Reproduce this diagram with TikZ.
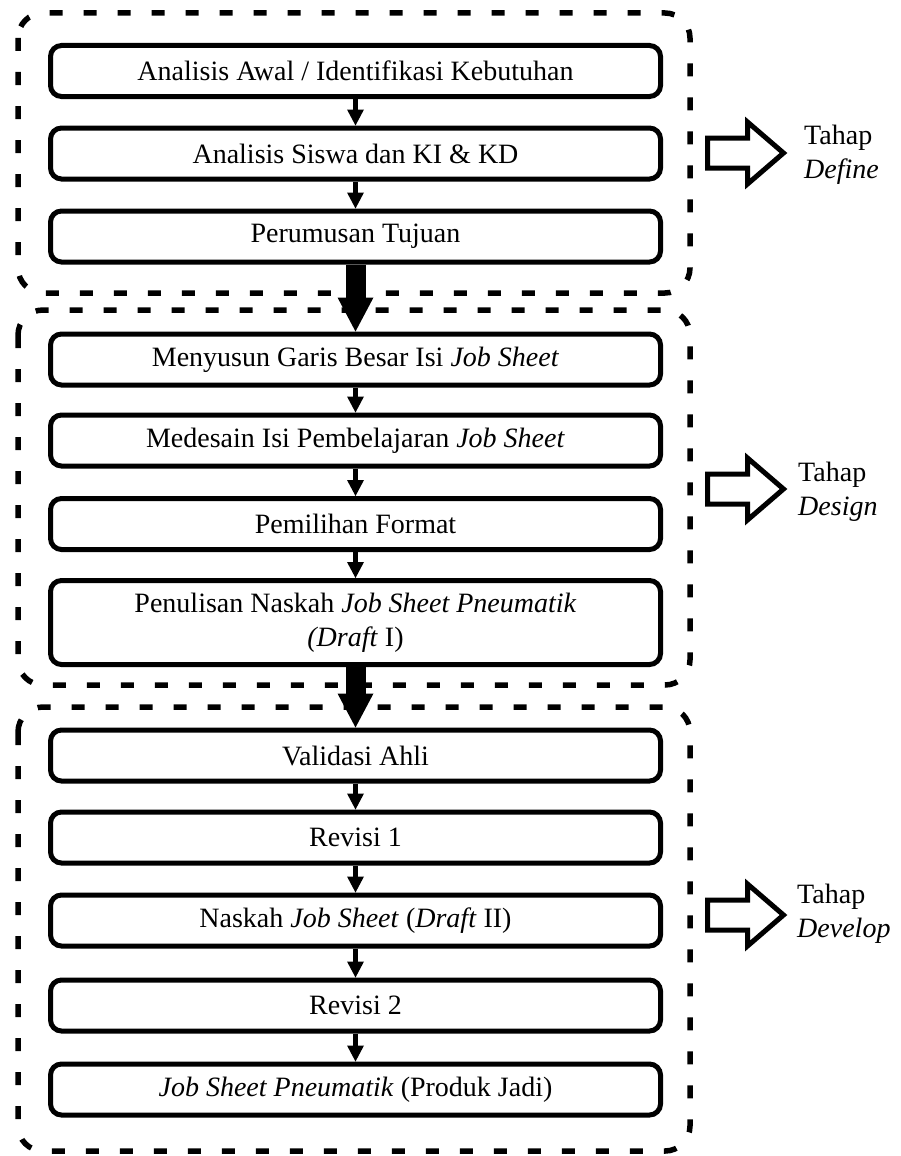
\documentclass[tikz,border=0pt]{standalone}
\usepackage{fontspec}
\setmainfont{Liberation Serif}
\usetikzlibrary{arrows.meta}
\begin{document}
\begin{tikzpicture}[x=1pt,y=-1pt,
  stage/.style={draw, line width=5pt, rounded corners=11pt, minimum width=610pt, minimum height=51pt, inner sep=0pt, align=center, font=\fontsize{28}{34}\selectfont},
  phase/.style={draw, line width=5.5pt, dash pattern=on 13pt off 21pt, rounded corners=25pt},
  flow/.style={line width=5pt, -{Triangle[width=17pt,length=16pt,line width=0pt]}},
  bigflow/.style={line width=20pt, -{Triangle[width=36pt,length=34pt,line width=0pt]}},
  hollow/.style={draw, line width=5pt, miter limit=10},
  tahap/.style={anchor=west, align=left, font=\fontsize{28}{34}\selectfont, inner sep=0pt},
  pics/hollowarrow/.style={code={\draw[hollow] (0,-15) -- (40,-15) -- (40,-31) -- (76,0) -- (40,31) -- (40,15) -- (0,15) -- cycle;}}
]
\useasboundingbox (0,0) rectangle (900,1156);

% phase regions
\draw[phase] (18,13) rectangle (690,293);
\draw[phase] (18,310) rectangle (690,685);
\draw[phase] (18,707) rectangle (690,1151);

% Define
\node[stage] (a1) at (355.5,71) {Analisis Awal / Identifikasi Kebutuhan};
\node[stage] (a2) at (355.5,153.5) {Analisis Siswa dan KI \& KD};
\node[stage] (a3) at (355.5,236.5) {Perumusan Tujuan};

% Design
\node[stage] (b1) at (355.5,359.5) {Menyusun Garis Besar Isi \textit{Job Sheet}};
\node[stage] (b2) at (355.5,440.5) {Medesain Isi Pembelajaran \textit{Job Sheet}};
\node[stage] (b3) at (355.5,524) {Pemilihan Format};
\node[stage, minimum height=84pt] (b4) at (355.5,622.5) {Penulisan Naskah \textit{Job Sheet Pneumatik}\\\textit{(Draft} I)};

% Develop
\node[stage] (c1) at (355.5,755.5) {Validasi Ahli};
\node[stage] (c2) at (355.5,837.5) {Revisi 1};
\node[stage] (c3) at (355.5,920.5) {Naskah \textit{Job Sheet} (\textit{Draft} II)};
\node[stage] (c4) at (355.5,1005.5) {Revisi 2};
\node[stage] (c5) at (355.5,1089.5) {\textit{Job Sheet Pneumatik} (Produk Jadi)};

% connectors
\draw[flow] (a1) -- (a2);
\draw[flow] (a2) -- (a3);
\draw[bigflow] (a3) -- (b1);
\draw[flow] (b1) -- (b2);
\draw[flow] (b2) -- (b3);
\draw[flow] (b3) -- (b4);
\draw[bigflow] (b4) -- (c1);
\draw[flow] (c1) -- (c2);
\draw[flow] (c2) -- (c3);
\draw[flow] (c3) -- (c4);
\draw[flow] (c4) -- (c5);

% stage labels
\pic at (707.5,153) {hollowarrow};
\node[tahap] (t1) at (804,155) {Tahap\\\textit{Define}};
\pic at (707.5,489) {hollowarrow};
\node[tahap] (t2) at (798,492) {Tahap\\\textit{Design}};
\pic at (707.5,915) {hollowarrow};
\node[tahap] (t3) at (797,914) {Tahap\\\textit{Develop}};
\end{tikzpicture}
\end{document}
